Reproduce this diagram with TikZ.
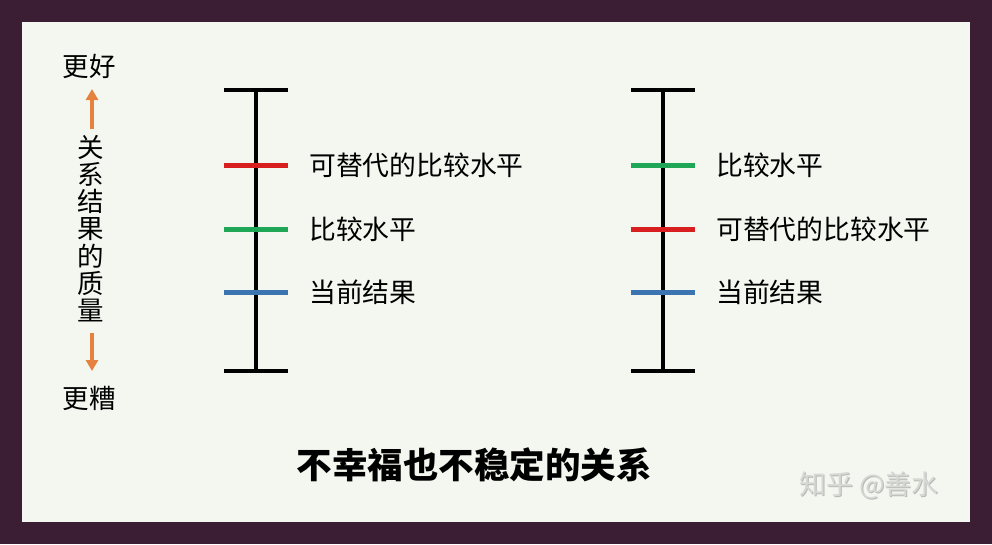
\documentclass[tikz,border=0pt]{standalone}
\usepackage{fontspec}
\newfontfamily\cjk{Noto Sans CJK SC}
\usetikzlibrary{arrows.meta}
\definecolor{frame}{HTML}{3B1E33}
\definecolor{panel}{HTML}{F3F7EF}
\definecolor{tred}{HTML}{D81E1E}
\definecolor{tgreen}{HTML}{1FA657}
\definecolor{tblue}{HTML}{3C74B2}
\definecolor{torange}{HTML}{E5823F}
\definecolor{wm}{HTML}{D6D9D4}
\tikzset{
  lbl/.style={font=\cjk\fontsize{26.8}{28}\selectfont, inner sep=0pt, anchor=west},
  axlbl/.style={font=\cjk\fontsize{26.5}{28}\selectfont, inner sep=0pt},
  bar/.style={line width=3.5pt, black},
  tick/.style={line width=5pt},
  oarrow/.style={torange, line width=3.5pt, -{Triangle[length=11pt,width=12pt]}},
  wmtext/.style={font=\cjk\fontsize{27}{29}\selectfont, inner sep=0pt, anchor=west},
}
\begin{document}
\begin{tikzpicture}[x=1pt,y=-1pt]
\useasboundingbox (0,0) rectangle (992,544);
\fill[frame] (0,0) rectangle (992,544);
\fill[panel] (22,22) rectangle (970,522);

% left axis
\node[axlbl] (better) at (89,66) {更好};
\node[axlbl] (worse) at (89,398) {更糟};
\foreach \c [count=\i from 0] in {关,系,结,果,的,质,量}{
  \node[axlbl] (q\i) at (91,{147+27.3*\i}) {\c};
}
\coordinate (upS) at (92,129);
\coordinate (upE) at (92,89);
\coordinate (dnS) at (92,333);
\coordinate (dnE) at (92,371);
\draw[oarrow] (upS) -- (upE);
\draw[oarrow] (dnS) -- (dnE);

% left bar
\coordinate (Ltop) at (256,90);
\coordinate (Lbot) at (256,371);
\draw[bar] (Ltop) -- (Lbot);
\draw[bar, line width=4.5pt] (224,90) -- (288,90);
\draw[bar, line width=4.5pt] (224,371) -- (288,371);
\draw[tick, tred] (224,165) -- (288,165);
\draw[tick, tgreen] (224,229) -- (288,229);
\draw[tick, tblue] (224,292) -- (288,292);
\node[lbl] (l1) at (309,165) {可替代的比较水平};
\node[lbl] (l2) at (309,229) {比较水平};
\node[lbl] (l3) at (309,292) {当前结果};

% right bar
\coordinate (Rtop) at (663,90);
\coordinate (Rbot) at (663,371);
\draw[bar] (Rtop) -- (Rbot);
\draw[bar, line width=4.5pt] (631,90) -- (695,90);
\draw[bar, line width=4.5pt] (631,371) -- (695,371);
\draw[tick, tgreen] (631,165) -- (695,165);
\draw[tick, tred] (631,229) -- (695,229);
\draw[tick, tblue] (631,292) -- (695,292);
\node[lbl] (r1) at (716,165) {比较水平};
\node[lbl] (r2) at (716,229) {可替代的比较水平};
\node[lbl] (r3) at (716,292) {当前结果};

% title
\node[font=\cjk\bfseries\fontsize{35.5}{38}\selectfont, inner sep=0pt] (title) at (474,465) {不幸福也不稳定的关系};

% watermark
\node[wmtext, text=gray!55] (wmS) at (800,486) {知乎 @善水};
\node[wmtext, text=wm] (wmT) at (799,485) {知乎 @善水};
\end{tikzpicture}
\end{document}
